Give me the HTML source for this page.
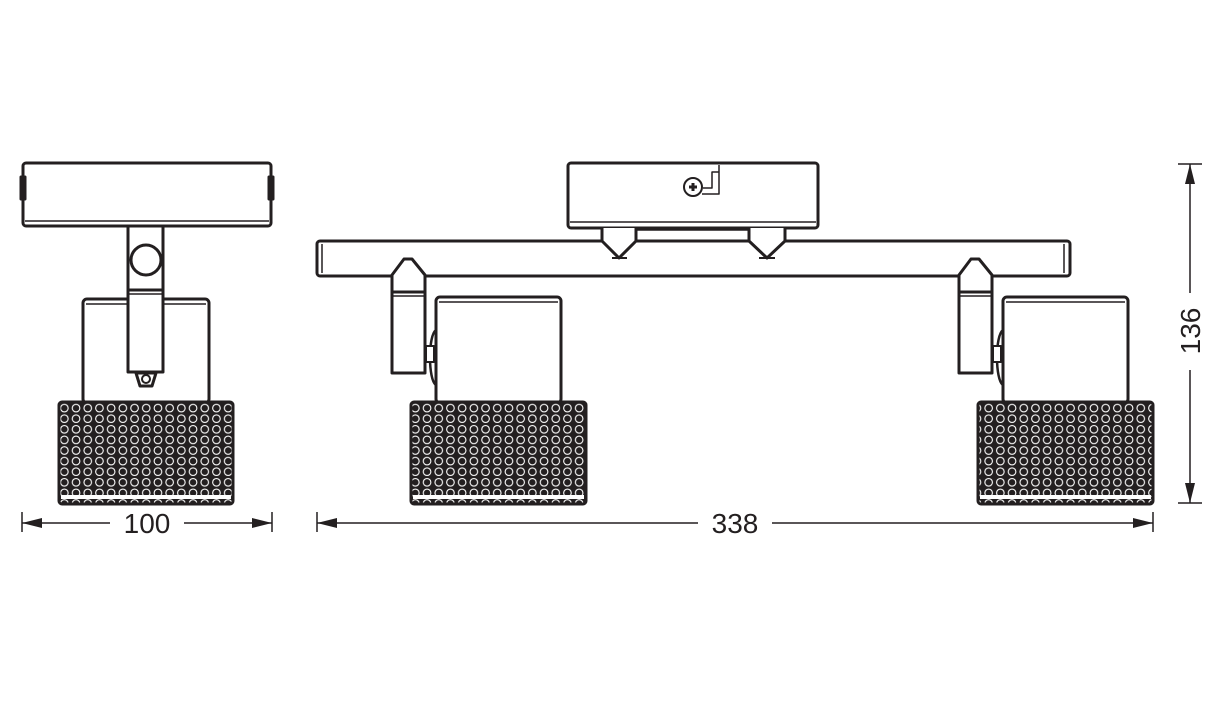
<!DOCTYPE html>
<html><head><meta charset="utf-8"><style>
html,body{margin:0;padding:0;background:#fff;}
svg{display:block}
text{font-family:"Liberation Sans",sans-serif;font-size:28px;fill:#231f20}
</style></head><body>
<svg width="1232" height="711" viewBox="0 0 1232 711" xmlns="http://www.w3.org/2000/svg">
<defs>
<pattern id="mesh" x="0" y="0" width="11.7" height="10.6" patternUnits="userSpaceOnUse">
<rect width="11.7" height="10.6" fill="#231f20"/>
<circle cx="5.85" cy="5.3" r="3.8" fill="#231f20" stroke="#fff" stroke-width="1.1"/>
</pattern>
<marker id="ar" markerWidth="20" markerHeight="10" refX="20" refY="5" orient="auto" markerUnits="userSpaceOnUse">
<path d="M0,0 L20,5 L0,10 Z" fill="#231f20"/>
</marker>
</defs>
<g fill="none" stroke="#231f20" stroke-width="3" stroke-linejoin="round">
<!-- LEFT VIEW -->
<rect x="23" y="163" width="248" height="63" rx="3" fill="#fff"/>
<line x1="25" y1="221" x2="269" y2="221" stroke-width="1.5"/>
<rect x="21" y="177" width="4" height="22" fill="#231f20"/>
<rect x="269" y="177" width="4" height="22" fill="#231f20"/>
<rect x="83" y="299" width="126" height="104" rx="4" fill="#fff"/>
<line x1="86" y1="304" x2="206" y2="304" stroke-width="1.5"/>
<rect x="128" y="226" width="35" height="146" fill="#fff"/>
<line x1="128" y1="290" x2="163" y2="290"/>
<line x1="128" y1="294" x2="163" y2="294" stroke-width="1.5"/>
<circle cx="146" cy="260" r="15" fill="#fff"/>
<path d="M136,373 L156,373 L152,386 L140,386 Z" fill="#fff"/>
<circle cx="146" cy="379" r="4" stroke-width="2"/>
<rect x="59" y="402" width="174" height="102" rx="3" fill="url(#mesh)"/>
<line x1="61" y1="497" x2="231" y2="497" stroke="#fff" stroke-width="4"/>
<!-- RIGHT VIEW canopy -->
<rect x="568" y="163" width="250" height="65" rx="3" fill="#fff"/>
<line x1="570" y1="222" x2="816" y2="222" stroke-width="1.5"/>
<circle cx="693" cy="187" r="9" stroke-width="2"/>
<path d="M689,187 h8 M693,183 v8" stroke-width="3"/>
<path d="M702,194 H719 V165 M703,188 H712 V172 H719" stroke-width="1.5"/>
<!-- bar -->
<rect x="317" y="241" width="753" height="35" rx="3" fill="#fff"/>
<line x1="322" y1="244" x2="322" y2="273" stroke-width="1.5"/>
<line x1="1064" y1="244" x2="1064" y2="273" stroke-width="1.5"/>
<!-- mounts -->
<path d="M602,228 V241 L619,258 L636,241 V228" fill="#fff"/>
<path d="M749,228 V241 L767,258 L785,241 V228" fill="#fff"/>
<line x1="612" y1="258" x2="627" y2="258" stroke-width="2"/>
<line x1="759" y1="258" x2="775" y2="258" stroke-width="2"/>
<line x1="636" y1="230" x2="749" y2="230" stroke-width="1.5"/>
<!-- left spot -->
<rect x="436" y="297" width="125" height="106" rx="4" fill="#fff"/>
<line x1="439" y1="302" x2="558" y2="302" stroke-width="1.5"/>
<path d="M392,373 V275 L404,259 H412 L425,275 V373 Z" fill="#fff"/>
<line x1="392" y1="292" x2="425" y2="292"/>
<line x1="392" y1="296" x2="425" y2="296" stroke-width="1.5"/>
<path d="M436,330 C428,335 428,380 436,385" stroke-width="2.5"/>
<rect x="426" y="346" width="8" height="16" fill="#fff" stroke-width="2"/>
<rect x="411" y="402" width="175" height="102" rx="3" fill="url(#mesh)"/>
<line x1="413" y1="497" x2="584" y2="497" stroke="#fff" stroke-width="4"/>
<!-- right spot -->
<rect x="1003" y="297" width="125" height="106" rx="4" fill="#fff"/>
<line x1="1006" y1="302" x2="1125" y2="302" stroke-width="1.5"/>
<path d="M959,373 V275 L971,259 H979 L992,275 V373 Z" fill="#fff"/>
<line x1="959" y1="292" x2="992" y2="292"/>
<line x1="959" y1="296" x2="992" y2="296" stroke-width="1.5"/>
<path d="M1003,330 C995,335 995,380 1003,385" stroke-width="2.5"/>
<rect x="993" y="346" width="8" height="16" fill="#fff" stroke-width="2"/>
<rect x="978" y="402" width="175" height="102" rx="3" fill="url(#mesh)"/>
<line x1="980" y1="497" x2="1151" y2="497" stroke="#fff" stroke-width="4"/>
</g>
<!-- dimensions -->
<g stroke="#231f20" stroke-width="1.5" fill="none">
<line x1="22" y1="512" x2="22" y2="532"/>
<line x1="272" y1="512" x2="272" y2="532"/>
<line x1="110" y1="523" x2="22" y2="523" marker-end="url(#ar)"/>
<line x1="184" y1="523" x2="272" y2="523" marker-end="url(#ar)"/>
<line x1="317" y1="512" x2="317" y2="532"/>
<line x1="1153" y1="512" x2="1153" y2="532"/>
<line x1="698" y1="523" x2="317" y2="523" marker-end="url(#ar)"/>
<line x1="772" y1="523" x2="1153" y2="523" marker-end="url(#ar)"/>
<line x1="1178" y1="164" x2="1202" y2="164"/>
<line x1="1178" y1="503" x2="1202" y2="503"/>
<line x1="1190" y1="293" x2="1190" y2="164" marker-end="url(#ar)"/>
<line x1="1190" y1="370" x2="1190" y2="503" marker-end="url(#ar)"/>
</g>
<text x="147" y="533" text-anchor="middle">100</text>
<text x="735" y="533" text-anchor="middle">338</text>
<text transform="translate(1200,331) rotate(-90)" text-anchor="middle">136</text>
</svg>
</body></html>
